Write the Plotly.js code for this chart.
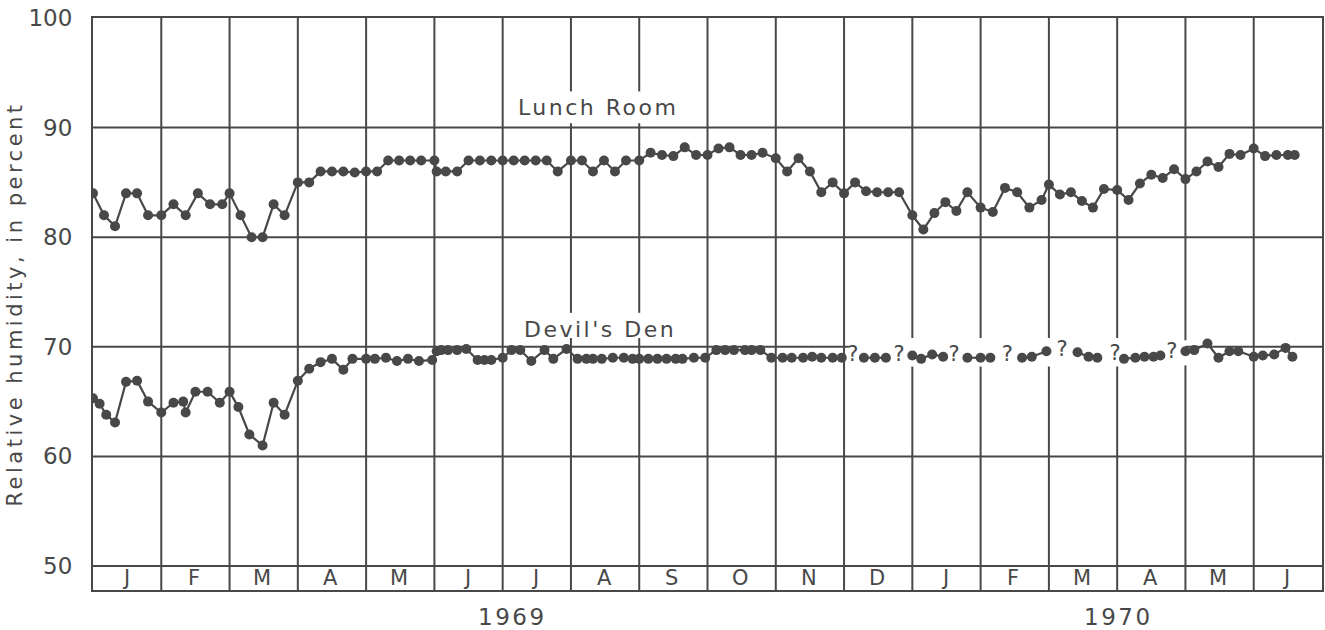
<!DOCTYPE html>
<html>
<head>
<meta charset="utf-8">
<script src="https://cdn.plot.ly/plotly-3.0.1.min.js"></script>
<style>
  html, body { margin: 0; padding: 0; background: #ffffff; }
  #chart { width: 1325px; height: 630px; }
  .ytitle { letter-spacing: 3.5px; }
  .annotation-text { letter-spacing: 2.5px; }
</style>
</head>
<body>
<div id="chart"></div>
<script>
// ---------------- DATA ----------------
const monthLetters = ['J','F','M','A','M','J','J','A','S','O','N','D','J','F','M','A','M','J'];
const yearLabels = ['1969', '1970'];
const yTickValues = [50, 60, 70, 80, 90, 100];

const lunchDates = [
  '1968-12-31',
  '1969-01-05','1969-01-10','1969-01-15','1969-01-20','1969-01-25','1969-01-31',
  '1969-02-05','1969-02-10','1969-02-15','1969-02-20','1969-02-25','1969-02-28',
  '1969-03-05','1969-03-10','1969-03-15','1969-03-20','1969-03-25','1969-03-31',
  '1969-04-05','1969-04-10','1969-04-15','1969-04-20','1969-04-25','1969-04-30',
  '1969-05-05','1969-05-10','1969-05-15','1969-05-20','1969-05-25','1969-05-31',
  '1969-06-01','1969-06-05','1969-06-10','1969-06-15','1969-06-20','1969-06-25','1969-06-30',
  '1969-07-05','1969-07-10','1969-07-15','1969-07-20','1969-07-25','1969-07-31',
  '1969-08-05','1969-08-10','1969-08-15','1969-08-20','1969-08-25','1969-08-31',
  '1969-09-05','1969-09-10','1969-09-15','1969-09-20','1969-09-25','1969-09-30',
  '1969-10-05','1969-10-10','1969-10-15','1969-10-20','1969-10-25','1969-10-31',
  '1969-11-05','1969-11-10','1969-11-15','1969-11-20','1969-11-25','1969-11-30',
  '1969-12-05','1969-12-10','1969-12-15','1969-12-20','1969-12-25','1969-12-31',
  '1970-01-05','1970-01-10','1970-01-15','1970-01-20','1970-01-25','1970-01-31',
  '1970-02-05','1970-02-10','1970-02-15','1970-02-20','1970-02-25','1970-02-28',
  '1970-03-05','1970-03-10','1970-03-15','1970-03-20','1970-03-25','1970-03-31',
  '1970-04-05','1970-04-10','1970-04-15','1970-04-20','1970-04-25','1970-04-30',
  '1970-05-05','1970-05-10','1970-05-15','1970-05-20','1970-05-25','1970-05-31',
  '1970-06-05','1970-06-10','1970-06-15','1970-06-18'
];
const lunchRH = [
  84,
  82, 81, 84, 84, 82, 82,
  83, 82, 84, 83, 83, 84,
  82, 80, 80, 83, 82, 85,
  85, 86, 86, 86, 85.9, 86,
  86, 87, 87, 87, 87, 87,
  86, 86, 86, 87, 87, 87, 87,
  87, 87, 87, 87, 86, 87,
  87, 86, 87, 86, 87, 87,
  87.7, 87.5, 87.4, 88.2, 87.5, 87.5,
  88.1, 88.2, 87.5, 87.5, 87.7, 87.2,
  86.0, 87.2, 86.0, 84.1, 85.0, 84.0,
  85.0, 84.2, 84.1, 84.1, 84.1, 82.0,
  80.7, 82.2, 83.2, 82.4, 84.1, 82.7,
  82.3, 84.5, 84.1, 82.7, 83.4, 84.8,
  83.9, 84.1, 83.3, 82.7, 84.4, 84.3,
  83.4, 84.9, 85.7, 85.4, 86.2, 85.3,
  86.0, 86.9, 86.4, 87.6, 87.5, 88.1,
  87.4, 87.5, 87.5, 87.5
];

// null = missing reading (line broken, marked with "?")
const denDates = [
  '1968-12-31',
  '1969-01-03','1969-01-06','1969-01-10','1969-01-15','1969-01-20','1969-01-25','1969-01-31',
  '1969-02-05','1969-02-09','1969-02-10','1969-02-14','1969-02-19','1969-02-24','1969-02-28',
  '1969-03-04','1969-03-09','1969-03-15','1969-03-20','1969-03-25','1969-03-31',
  '1969-04-05','1969-04-10','1969-04-15','1969-04-20','1969-04-24','1969-04-30',
  '1969-05-04','1969-05-09','1969-05-14','1969-05-19','1969-05-24','1969-05-30',
  '1969-06-01','1969-06-03','1969-06-06','1969-06-10','1969-06-14','1969-06-19','1969-06-22','1969-06-25','1969-06-30',
  '1969-07-04','1969-07-08','1969-07-13','1969-07-19','1969-07-23','1969-07-29',
  '1969-08-03','1969-08-07','1969-08-10','1969-08-14','1969-08-19','1969-08-24','1969-08-28','1969-08-31',
  '1969-09-04','1969-09-08','1969-09-12','1969-09-16','1969-09-19','1969-09-24','1969-09-29',
  '1969-10-04','1969-10-08','1969-10-12','1969-10-17','1969-10-20','1969-10-24','1969-10-29',
  '1969-11-03','1969-11-07','1969-11-12','1969-11-16','1969-11-20','1969-11-25','1969-11-29',
  '1969-12-04','1969-12-09','1969-12-14','1969-12-19','1969-12-25','1969-12-31',
  '1970-01-04','1970-01-09','1970-01-14','1970-01-19','1970-01-25','1970-01-31',
  '1970-02-04','1970-02-11','1970-02-17','1970-02-21','1970-02-27',
  '1970-03-06','1970-03-13','1970-03-18','1970-03-22','1970-03-30',
  '1970-04-03','1970-04-08','1970-04-12','1970-04-16','1970-04-19','1970-04-24','1970-04-30',
  '1970-05-04','1970-05-10','1970-05-15','1970-05-20','1970-05-24','1970-05-31',
  '1970-06-04','1970-06-09','1970-06-14','1970-06-17'
];
const denRH = [
  65.3,
  64.8, 63.8, 63.1, 66.8, 66.9, 65.0, 64.0,
  64.9, 65.0, 64.0, 65.9, 65.9, 64.9, 65.9,
  64.5, 62.0, 61.0, 64.9, 63.8, 66.9,
  68.0, 68.6, 68.9, 67.9, 68.9, 68.9,
  68.9, 69.0, 68.7, 68.9, 68.7, 68.8,
  69.6, 69.7, 69.7, 69.7, 69.8, 68.8, 68.8, 68.8, 69.0,
  69.7, 69.7, 68.7, 69.7, 68.9, 69.8,
  68.9, 68.9, 68.9, 68.9, 69.0, 69.0, 68.9, 68.9,
  68.9, 68.9, 68.9, 68.9, 68.9, 69.0, 69.0,
  69.7, 69.7, 69.7, 69.7, 69.7, 69.7, 69.0,
  69.0, 69.0, 69.0, 69.1, 69.0, 69.0, 69.0,
  null, 69.0, 69.0, 69.0, null, 69.2,
  68.9, 69.3, 69.1, null, 69.0, 69.0,
  69.0, null, 69.0, 69.1, 69.6,
  null, 69.5, 69.1, 69.0, null,
  68.9, 69.0, 69.1, 69.1, 69.2, null, 69.6,
  69.7, 70.3, 69.0, 69.6, 69.6, 69.1,
  69.2, 69.3, 69.9, 69.1
];

const questionDates = ['1969-12-04','1969-12-25','1970-01-19','1970-02-11','1970-03-06','1970-03-30','1970-04-24'];
const questionRH = [69.2, 69.2, 69.2, 69.2, 69.6, 69.3, 69.45];

// ---------------- HELPERS ----------------
// Position on an axis where every month has the same width (month 0 = Jan 1969)
function monthPos(d) {
  const p = d.split('-').map(Number);
  const idx = (p[0] - 1969) * 12 + (p[1] - 1);
  const dim = new Date(p[0], p[1], 0).getDate();
  return idx + p[2] / dim;
}

const INK = '#484848';
const FONT = 'DejaVu Sans, Liberation Sans, sans-serif';
const YMIN = 47.81, YMAX = 100;

// ---------------- TRACES ----------------
const traces = [
  {
    x: lunchDates.map(monthPos), y: lunchRH, type: 'scatter', mode: 'lines+markers',
    line: { color: INK, width: 2.2 }, marker: { color: INK, size: 10 },
    hoverinfo: 'skip', showlegend: false
  },
  {
    x: denDates.map(monthPos), y: denRH, type: 'scatter', mode: 'lines+markers',
    connectgaps: false,
    line: { color: INK, width: 2.2 }, marker: { color: INK, size: 10 },
    hoverinfo: 'skip', showlegend: false
  },
  {
    x: questionDates.map(monthPos), y: questionRH, type: 'scatter', mode: 'text',
    text: questionDates.map(() => '?'), textposition: 'middle center',
    textfont: { family: FONT, size: 21, color: INK },
    hoverinfo: 'skip', showlegend: false
  }
];

// ---------------- GRID (drawn as shapes: original grid is broken around labels) ----------------
const shapes = [];
function hline(y, x0, x1) {
  shapes.push({ type: 'line', xref: 'x', yref: 'y', x0: x0, x1: x1, y0: y, y1: y,
    line: { color: INK, width: 2 }, layer: 'below' });
}
function vline(x, y0, y1) {
  shapes.push({ type: 'line', xref: 'x', yref: 'y', x0: x, x1: x, y0: y0, y1: y1,
    line: { color: INK, width: 2 }, layer: 'below' });
}
[50, 60, 80, 90].forEach(y => hline(y, 0, monthLetters.length));
hline(70, 0, 11.07);
hline(70, 16, monthLetters.length);

const vGaps = {
  7: [[70.8, 73.1], [90.4, 93.3]],
  8: [[70.8, 73.1], [90.4, 93.3]],
  12: [[68.2, 70.8]], 13: [[68.2, 70.8]], 14: [[68.2, 70.8]], 15: [[68.2, 70.8]], 16: [[68.3, 70.6]]
};
for (let i = 1; i < monthLetters.length; i++) {
  let start = YMIN;
  (vGaps[i] || []).forEach(g => { vline(i, start, g[0]); start = g[1]; });
  vline(i, start, YMAX);
}

// ---------------- ANNOTATIONS ----------------
const annotations = [];
monthLetters.forEach((m, i) => annotations.push({
  x: i + 0.5, y: 48.9, xref: 'x', yref: 'y', text: m, showarrow: false,
  font: { family: FONT, size: 21, color: INK }, xanchor: 'center', yanchor: 'middle'
}));
annotations.push({ x: 6.14, y: -0.047, xref: 'x', yref: 'paper', text: yearLabels[0], showarrow: false,
  font: { family: FONT, size: 23, color: INK }, xanchor: 'center', yanchor: 'middle' });
annotations.push({ x: 15.02, y: -0.047, xref: 'x', yref: 'paper', text: yearLabels[1], showarrow: false,
  font: { family: FONT, size: 23, color: INK }, xanchor: 'center', yanchor: 'middle' });
annotations.push({ x: 7.39, y: 91.8, xref: 'x', yref: 'y', text: 'Lunch Room', showarrow: false,
  font: { family: FONT, size: 22, color: INK }, xanchor: 'center', yanchor: 'middle' });
annotations.push({ x: 7.43, y: 71.6, xref: 'x', yref: 'y', text: "Devil's Den", showarrow: false,
  font: { family: FONT, size: 22, color: INK }, xanchor: 'center', yanchor: 'middle' });

// ---------------- LAYOUT ----------------
const layout = {
  width: 1325, height: 630,
  margin: { l: 93, r: 3, t: 18, b: 40, pad: 0 },
  paper_bgcolor: '#ffffff', plot_bgcolor: '#ffffff',
  font: { family: FONT, color: INK },
  xaxis: {
    range: [0, monthLetters.length], showgrid: false, zeroline: false,
    showline: true, mirror: true, linecolor: INK, linewidth: 2,
    showticklabels: false, ticks: '', fixedrange: true
  },
  yaxis: {
    range: [YMIN, YMAX + 0.001], showgrid: false, zeroline: false,
    showline: true, mirror: true, linecolor: INK, linewidth: 2,
    tickmode: 'array', tickvals: yTickValues, ticktext: yTickValues.map(String),
    ticks: '', ticklabelstandoff: 14,
    tickfont: { family: FONT, size: 23, color: INK },
    title: { text: 'Relative humidity, in percent', standoff: 0,
             font: { family: FONT, size: 21, color: INK } },
    automargin: false, fixedrange: true
  },
  shapes: shapes,
  annotations: annotations,
  showlegend: false
};

Plotly.newPlot('chart', traces, layout, { staticPlot: true, displayModeBar: false });
</script>
</body>
</html>
